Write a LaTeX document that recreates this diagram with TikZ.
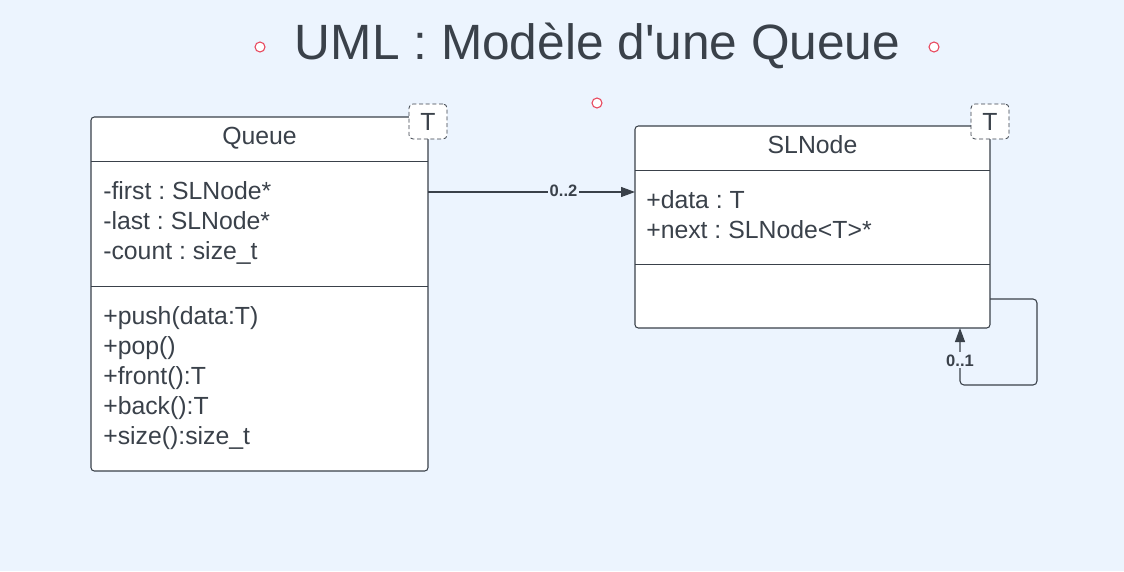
\documentclass[tikz,border=0pt]{standalone}
\usepackage{fontspec}
\setmainfont{Liberation Sans}[Ligatures=TeXOff]
\usetikzlibrary{arrows.meta,calc}
\definecolor{bg}{RGB}{236,244,254}
\definecolor{ink}{RGB}{58,65,74}
\definecolor{redc}{RGB}{232,72,94}
\frenchspacing
\begin{document}
\begin{tikzpicture}[x=0.75pt,y=-0.75pt,
  classbox/.style={draw=ink, fill=white, line width=0.8pt, rounded corners=2.5pt, inner sep=0pt, outer sep=0pt},
  tbox/.style={draw=ink, fill=white, densely dashed, line width=0.6pt, rounded corners=3pt, inner sep=0pt,
    minimum width=28.5pt, minimum height=26.25pt, text=ink, font=\fontsize{18.6}{22.5}\selectfont},
  txt/.style={inner sep=0pt, text=ink, font=\fontsize{18.6}{22.5}\selectfont},
  sep/.style={draw=ink, line width=0.75pt},
  assoc/.style={draw=ink, line width=0.8pt, -{Triangle[length=10.5pt,width=7.5pt]}},
  lbl/.style={fill=bg, inner sep=1.5pt, text=ink, font=\bfseries\fontsize{12.4}{14}\selectfont},
  handle/.style={draw=redc, line width=0.8pt, fill=white, circle, minimum size=7.5pt, inner sep=0pt}
]
\fill[bg] (0,0) rectangle (1124,571);
\useasboundingbox (0,0) rectangle (1124,571);

% title
\node[txt, anchor=base, font=\fontsize{37.2}{44}\selectfont] (title) at (597.5,59) {UML : Modèle d'une Queue};
\node[handle] (m1) at (260,47) {};
\node[handle] (m2) at (934,47) {};
\node[handle] (m3) at (597,103) {};

% Queue class
\node[classbox, minimum width=252.75pt, minimum height=265.5pt] (queue) at (259.5,294) {};
\draw[sep] (queue.west |- {(0,161)}) -- (queue.east |- {(0,161)});
\draw[sep] (queue.west |- {(0,286)}) -- (queue.east |- {(0,286)});
\node[txt, anchor=base] (qtitle) at (259.5,144) {Queue};
\node[txt, anchor=base west] (qa1) at (103,199) {-first : SLNode*};
\node[txt, anchor=base west] (qa2) at (103,229) {-last : SLNode*};
\node[txt, anchor=base west] (qa3) at (103,259) {-count : size\_t};
\node[txt, anchor=base west] (qm1) at (103,324) {+push(data:T)};
\node[txt, anchor=base west] (qm2) at (103,354) {+pop()};
\node[txt, anchor=base west] (qm3) at (103,384) {+front():T};
\node[txt, anchor=base west] (qm4) at (103,414) {+back():T};
\node[txt, anchor=base west] (qm5) at (103,444) {+size():size\_t};
\node[tbox] (tq) at (428,121.5) {T};

% SLNode class
\node[classbox, minimum width=266.25pt, minimum height=151.5pt] (slnode) at (812.5,227) {};
\draw[sep] (slnode.west |- {(0,170)}) -- (slnode.east |- {(0,170)});
\draw[sep] (slnode.west |- {(0,264)}) -- (slnode.east |- {(0,264)});
\node[txt, anchor=base] (stitle) at (812.5,153) {SLNode};
\node[txt, anchor=base west] (sa1) at (646,208) {+data : T};
\node[txt, anchor=base west] (sa2) at (646,238) {+next : SLNode<T>*};
\node[tbox] (ts) at (990,121.5) {T};

% associations
\draw[assoc] (queue.east |- {(0,192)}) -- (slnode.west |- {(0,192)});
\draw[assoc, rounded corners=3pt] (slnode.east |- {(0,299)}) -- (1037,299) -- (1037,385) -- (960,385) -- (slnode.south -| {(960,0)});
\node[lbl, anchor=base] (l02) at (563.5,196) {0..2};
\node[lbl, anchor=base] (l01) at (960,366) {0..1};
\end{tikzpicture}
\end{document}
